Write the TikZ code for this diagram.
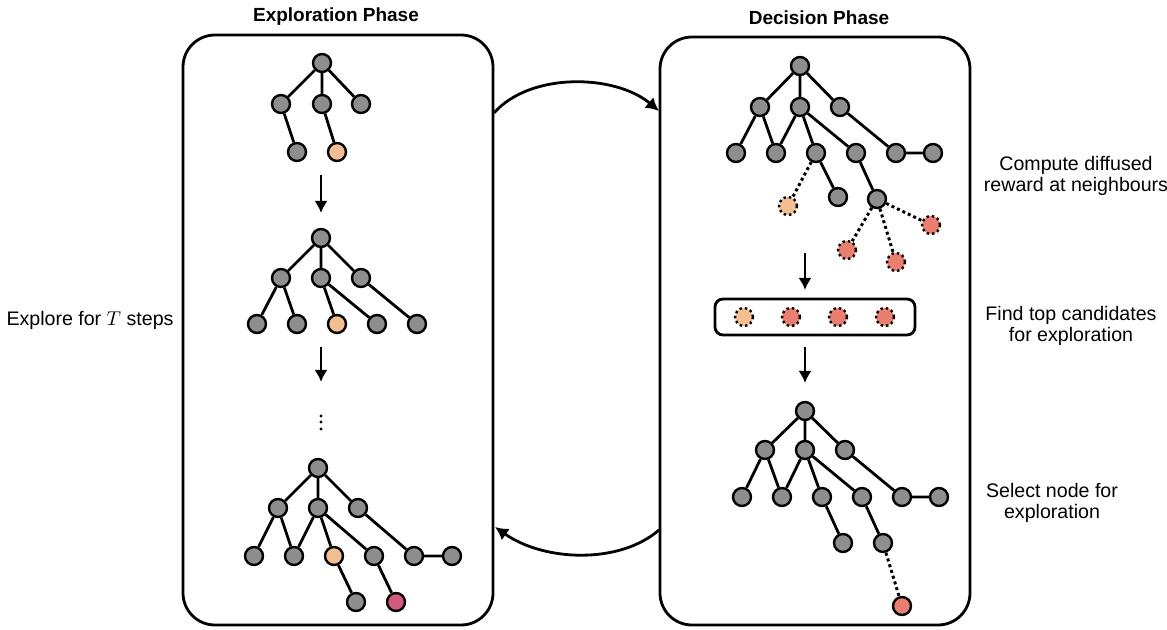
\documentclass[tikz,border=0pt]{standalone}
\usepackage{fontspec}
\setmainfont{Liberation Sans}
\usetikzlibrary{arrows.meta}

\definecolor{nodegray}{HTML}{8E8E8E}
\definecolor{peach}{HTML}{F3BE92}
\definecolor{salmon}{HTML}{E9806F}
\definecolor{crimson}{HTML}{D25A7D}

\begin{document}
\begin{tikzpicture}[x=0.5pt,y=-0.5pt,
    vertex/.style={circle, draw, line width=1.2pt, fill=nodegray, minimum size=9pt, inner sep=0pt},
    cand/.style={vertex, dash pattern=on 1.2pt off 1.5pt},
    edge/.style={line width=1.4pt},
    link/.style={line width=1.5pt, dash pattern=on 1.5pt off 1.5pt},
    flow/.style={line width=1.1pt, -{Latex[length=6pt,width=6.5pt]}},
    loop/.style={line width=1.4pt, -{Latex[length=6.5pt,width=7pt]}},
    phase/.style={draw, line width=1.4pt, rounded corners=16pt, minimum width=155pt, minimum height=295pt},
    title/.style={font=\fontsize{9.5}{11}\selectfont\bfseries},
    note/.style={font=\fontsize{9.8}{10.4}\selectfont, align=center},
    dot/.style={circle, fill, inner sep=0pt, minimum size=1.6pt}]
    \useasboundingbox (0,0) rectangle (1167,630);

    % the two phases
    \node[phase] (expl) at (338,330) {};
    \node[phase, minimum height=294pt] (dec) at (815,331) {};
    \node[title] (expl title) at (336,17) {Exploration Phase};
    \node[title] (dec title) at (819,18) {Decision Phase};

    % exploration: first tree
    \node[vertex] (A0) at (322,63) {};
    \node[vertex] (A1) at (281,104) {};
    \node[vertex] (A2) at (322,104) {};
    \node[vertex] (A3) at (361,104) {};
    \node[vertex] (A4) at (297,152) {};
    \node[vertex, fill=peach] (A5) at (337,152) {};
    \draw[edge] (A0) -- (A1) (A0) -- (A2) (A0) -- (A3) (A1) -- (A4) (A2) -- (A5);

    % exploration: second tree
    \node[vertex] (B0) at (321,238) {};
    \node[vertex] (B1) at (281,278) {};
    \node[vertex] (B2) at (321,278) {};
    \node[vertex] (B3) at (361,278) {};
    \node[vertex] (B4) at (257,324) {};
    \node[vertex] (B5) at (297,324) {};
    \node[vertex, fill=peach] (B6) at (337,324) {};
    \node[vertex] (B7) at (377,324) {};
    \node[vertex] (B8) at (417,324) {};
    \draw[edge] (B0) -- (B1) (B0) -- (B2) (B0) -- (B3)
        (B1) -- (B4) (B1) -- (B5) (B2) -- (B6) (B2) -- (B7) (B3) -- (B8);

    % more steps
    \node[dot] (more1) at (321,416) {};
    \node[dot] (more2) at (321,422) {};
    \node[dot] (more3) at (321,429) {};

    % exploration: last tree
    \node[vertex] (C0) at (318,468) {};
    \node[vertex] (C1) at (278,508) {};
    \node[vertex] (C2) at (318,508) {};
    \node[vertex] (C3) at (358,508) {};
    \node[vertex] (C4) at (254,556) {};
    \node[vertex] (C5) at (294,556) {};
    \node[vertex, fill=peach] (C6) at (334,556) {};
    \node[vertex] (C7) at (374,556) {};
    \node[vertex] (C8) at (414,556) {};
    \node[vertex] (C9) at (452,556) {};
    \node[vertex] (C10) at (356,602) {};
    \node[vertex, fill=crimson] (C11) at (396,602) {};
    \draw[edge] (C0) -- (C1) (C0) -- (C2) (C0) -- (C3)
        (C1) -- (C4) (C1) -- (C5) (C2) -- (C5) (C2) -- (C6) (C2) -- (C7)
        (C3) -- (C8) (C8) -- (C9) (C6) -- (C10) (C7) -- (C11);

    \coordinate (a1) at (321,175); \coordinate (a1e) at (321,213);
    \coordinate (a2) at (321,347); \coordinate (a2e) at (321,382);
    \draw[flow] (a1) -- (a1e);
    \draw[flow] (a2) -- (a2e);

    % decision: tree with neighbours
    \node[vertex] (D0) at (800,66) {};
    \node[vertex] (D1) at (760,107) {};
    \node[vertex] (D2) at (800,107) {};
    \node[vertex] (D3) at (840,107) {};
    \node[vertex] (D4) at (736,153) {};
    \node[vertex] (D5) at (776,153) {};
    \node[vertex] (D6) at (816,153) {};
    \node[vertex] (D7) at (856,153) {};
    \node[vertex] (D8) at (896,153) {};
    \node[vertex] (D9) at (933,153) {};
    \node[vertex] (D10) at (838,197) {};
    \node[vertex] (D11) at (877,199) {};
    \node[cand, fill=peach] (D12) at (788,206) {};
    \node[cand, fill=salmon] (D13) at (847,250) {};
    \node[cand, fill=salmon] (D14) at (896,262) {};
    \node[cand, fill=salmon] (D15) at (931,225) {};
    \draw[edge] (D0) -- (D1) (D0) -- (D2) (D0) -- (D3)
        (D1) -- (D4) (D1) -- (D5) (D2) -- (D5) (D2) -- (D6) (D2) -- (D7)
        (D3) -- (D8) (D8) -- (D9) (D6) -- (D10) (D7) -- (D11);
    \draw[link] (D6) -- (D12) (D11) -- (D13) (D11) -- (D14) (D11) -- (D15);

    % decision: top candidates
    \node[draw, line width=1.4pt, rounded corners=4pt, minimum width=100pt, minimum height=18pt] (cands) at (815,317) {};
    \node[cand, fill=peach] (K1) at (744,317) {};
    \node[cand, fill=salmon] (K2) at (791,317) {};
    \node[cand, fill=salmon] (K3) at (838,317) {};
    \node[cand, fill=salmon] (K4) at (885,317) {};

    % decision: chosen node
    \node[vertex] (E0) at (805,411) {};
    \node[vertex] (E1) at (765,450) {};
    \node[vertex] (E2) at (805,450) {};
    \node[vertex] (E3) at (845,450) {};
    \node[vertex] (E4) at (742,497) {};
    \node[vertex] (E5) at (782,497) {};
    \node[vertex] (E6) at (822,497) {};
    \node[vertex] (E7) at (862,497) {};
    \node[vertex] (E8) at (902,497) {};
    \node[vertex] (E9) at (939,497) {};
    \node[vertex] (E10) at (843,543) {};
    \node[vertex] (E11) at (883,543) {};
    \node[vertex, fill=salmon] (E12) at (902,606) {};
    \draw[edge] (E0) -- (E1) (E0) -- (E2) (E0) -- (E3)
        (E1) -- (E4) (E1) -- (E5) (E2) -- (E5) (E2) -- (E6) (E2) -- (E7)
        (E3) -- (E8) (E8) -- (E9) (E6) -- (E10) (E7) -- (E11);
    \draw[link] (E11) -- (E12);

    \coordinate (d1) at (805,253); \coordinate (d1e) at (805,290);
    \coordinate (d2) at (805,347); \coordinate (d2e) at (805,383);
    \draw[flow] (d1) -- (d1e);
    \draw[flow] (d2) -- (d2e);

    % loop between the phases
    \coordinate (go) at (494,113); \coordinate (goe) at (659,111);
    \coordinate (back) at (659,530); \coordinate (backe) at (495,527);
    \draw[loop] (go) .. controls (530,72) and (615,74) .. (goe);
    \draw[loop] (back) .. controls (620,564) and (545,562) .. (backe);

    % side notes
    \node[note] (steps) at (90,320) {Explore for $T$ steps};
    \node[note] (diffuse) at (1076,176) {Compute diffused\\reward at neighbours};
    \node[note] (top) at (1071,326) {Find top candidates\\for exploration};
    \node[note] (select) at (1052,503) {Select node for\\exploration};
\end{tikzpicture}
\end{document}
